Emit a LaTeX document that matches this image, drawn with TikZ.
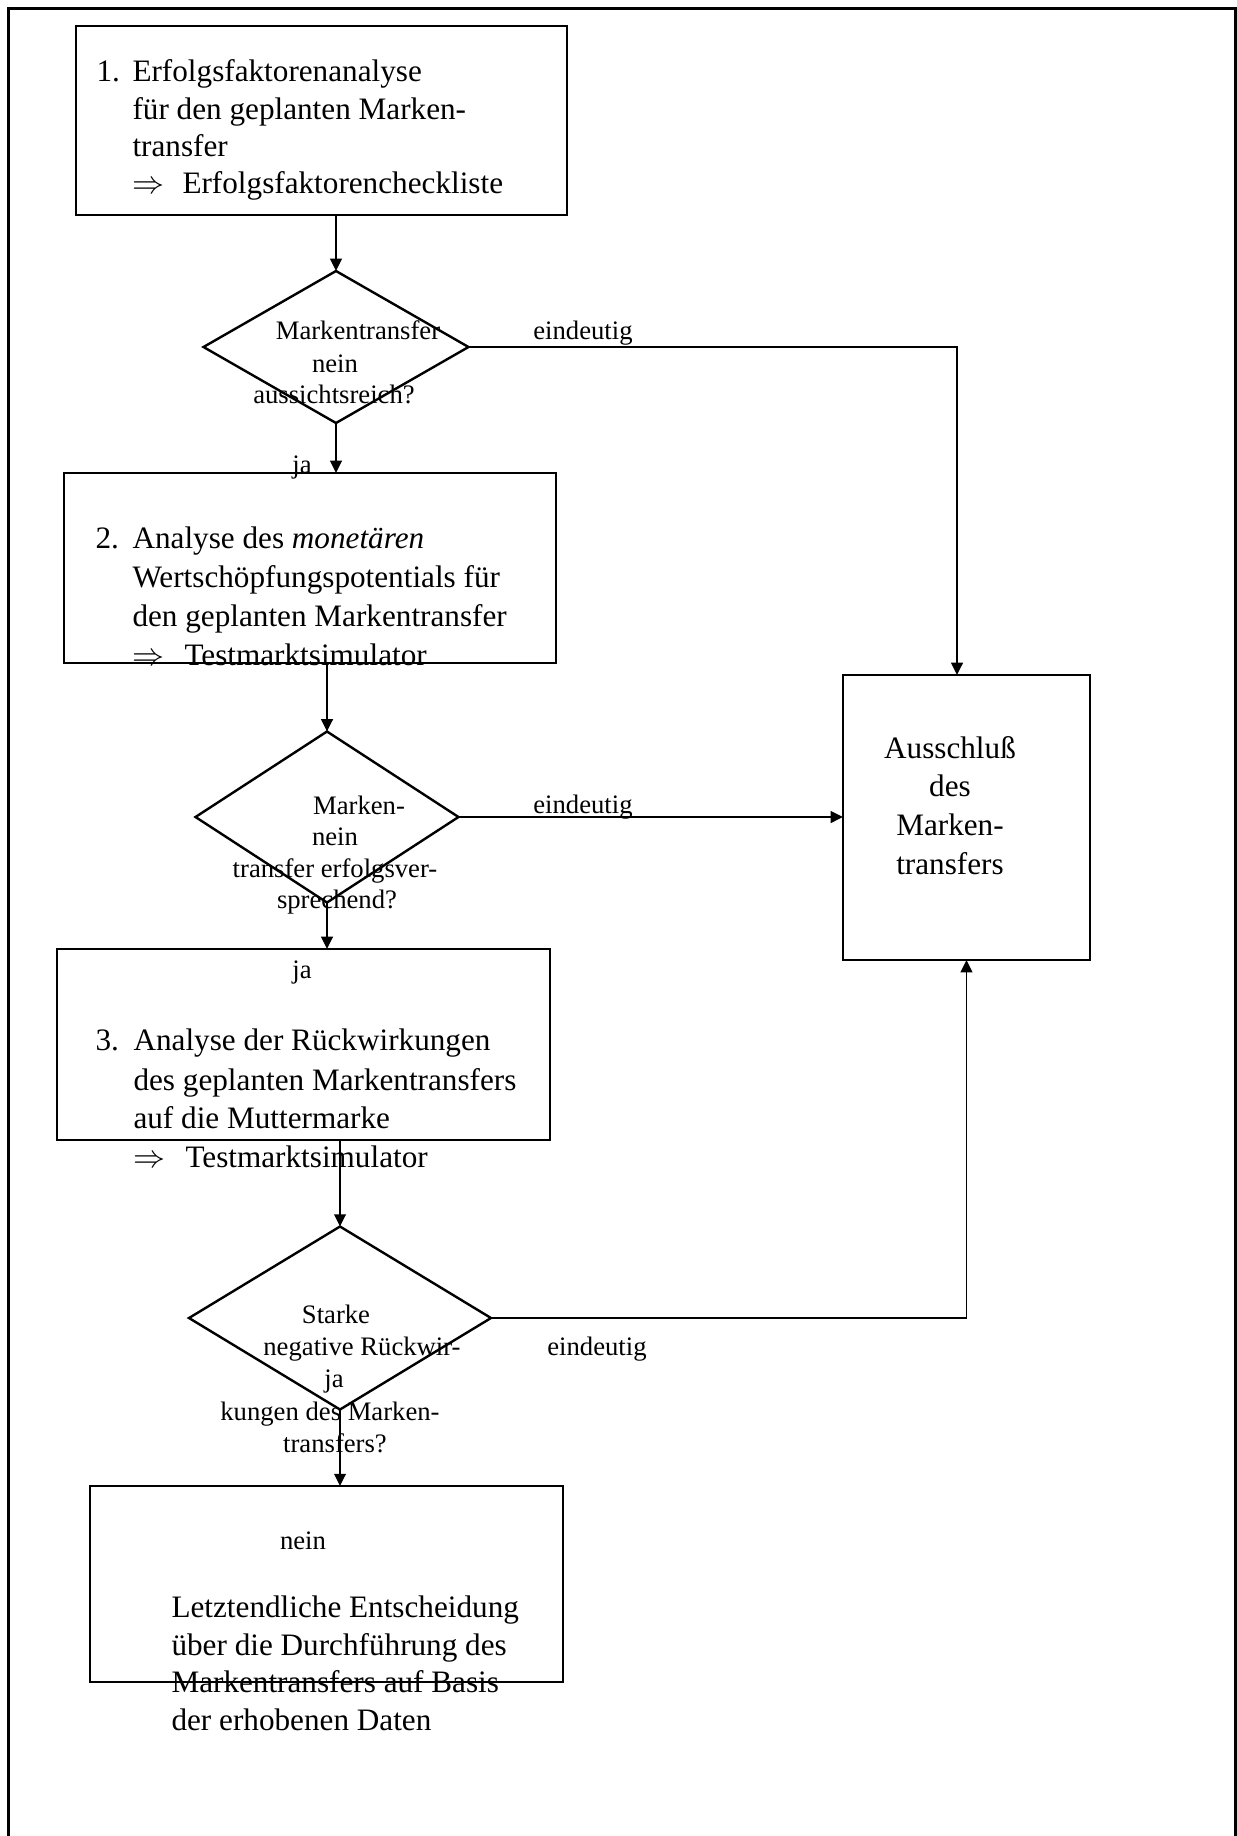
\documentclass[tikz,border=0pt]{standalone}
\usepackage{fontspec}
\setmainfont{Liberation Serif}
\usetikzlibrary{shapes.geometric,arrows.meta,calc}
\begin{document}
\begin{tikzpicture}[x=0.375pt,y=-0.375pt,
  boxst/.style={draw,line width=0.9pt,rectangle,inner sep=0pt,outer sep=0pt},
  diast/.style={draw,line width=0.9pt,diamond,inner sep=0pt,outer sep=0pt},
  conn/.style={line width=0.7pt,-{Triangle[length=4.6pt,width=4.4pt]}},
  bt/.style={inner sep=0pt,anchor=base west,font=\fontsize{11.7}{14}\selectfont},
  btc/.style={inner sep=0pt,anchor=base,font=\fontsize{11.7}{14}\selectfont},
  lb/.style={inner sep=0pt,anchor=base,font=\fontsize{10}{12}\selectfont}]
\useasboundingbox (0,0) rectangle (1237,1836);
\draw[line width=1pt] (8.5,1836) -- (8.5,8.5) -- (1235.5,8.5) -- (1235.5,1836);

% boxes
\node[boxst,minimum width=184.125pt,minimum height=70.875pt] (b1) at (321.5,120.5) {};
\node[boxst,minimum width=184.5pt,minimum height=71.25pt] (b2) at (310,568) {};
\node[boxst,minimum width=184.875pt,minimum height=71.625pt] (b3) at (303.5,1044.5) {};
\node[boxst,minimum width=177.375pt,minimum height=73.5pt] (b4) at (326.5,1584) {};
\node[boxst,minimum width=92.625pt,minimum height=106.875pt] (b5) at (966.5,817.5) {};

% diamonds
\node[diast,minimum width=99.375pt,minimum height=57pt] (d1) at (336,347) {};
\node[diast,minimum width=98.625pt,minimum height=64.125pt] (d2) at (327,817) {};
\node[diast,minimum width=113.25pt,minimum height=68.625pt] (d3) at (340,1318) {};

% connectors
\draw[conn] (d1.north |- b1.south) -- (d1.north);
\draw[conn] (d1.east) -| ($(b5.north)+(-9.5,0)$);
\draw[conn] (d1.south) -- (d1.south |- b2.north);
\draw[conn] (d2.north |- b2.south) -- (d2.north);
\draw[conn] (d2.east) -- (d2.east -| b5.west);
\draw[conn] (d2.south) -- (d2.south |- b3.north);
\draw[conn] (d3.north |- b3.south) -- (d3.north);
\draw[conn] (d3.east) -| (b5.south);
\draw[conn] (d3.south) -- (d3.south |- b4.north);

% box 1 text
\node[bt] (t1n) at (96,81) {1.};
\node[bt] (t1a) at (132,81) {Erfolgsfaktorenanalyse};
\node[bt] (t1b) at (132,119) {für den geplanten Marken-};
\node[bt] (t1c) at (132,156) {transfer};
\node[bt] (t1d) at (132,193) {$\Rightarrow$};
\node[bt] (t1e) at (182,193) {Erfolgsfaktorencheckliste};

% box 2 text
\node[bt] (t2n) at (95,548) {2.};
\node[bt] (t2a) at (132,548) {Analyse des \textit{monetären}};
\node[bt] (t2b) at (132,587) {Wertschöpfungspotentials für};
\node[bt] (t2c) at (132,626) {den geplanten Markentransfer};
\node[bt] (t2d) at (132,665) {$\Rightarrow$};
\node[bt] (t2e) at (184,665) {Testmarktsimulator};

% box 3 text
\node[lb] (ja2) at (302,978) {ja};
\node[bt] (t3n) at (95,1050) {3.};
\node[bt] (t3a) at (133,1050) {Analyse der Rückwirkungen};
\node[bt] (t3b) at (133,1090) {des geplanten Markentransfers};
\node[bt] (t3c) at (133,1128) {auf die Muttermarke};
\node[bt] (t3d) at (133,1167) {$\Rightarrow$};
\node[bt] (t3e) at (185,1167) {Testmarktsimulator};

% box 4 text
\node[lb] (nein3) at (303,1549) {nein};
\node[bt] (t4a) at (171,1617) {Letztendliche Entscheidung};
\node[bt] (t4b) at (171,1655) {über die Durchführung des};
\node[bt] (t4c) at (171,1692) {Markentransfers auf Basis};
\node[bt] (t4d) at (171,1730) {der erhobenen Daten};

% box 5 text
\node[btc] (t5a) at (950,758) {Ausschluß};
\node[btc] (t5b) at (950,796) {des};
\node[btc] (t5c) at (950,835) {Marken-};
\node[btc] (t5d) at (950,874) {transfers};

% diamond 1 text
\node[lb] (q1a) at (358,339) {Markentransfer};
\node[lb] (q1b) at (335,372) {nein};
\node[lb] (q1c) at (334,403) {aussichtsreich?};
\node[lb] (e1) at (583,339) {eindeutig};
\node[lb] (ja1) at (302,473) {ja};

% diamond 2 text
\node[lb] (q2a) at (359,814) {Marken-};
\node[lb] (q2b) at (335,845) {nein};
\node[lb] (q2c) at (335,877) {transfer erfolgsver-};
\node[lb] (q2d) at (337,908) {sprechend?};
\node[lb] (e2) at (583,813) {eindeutig};

% diamond 3 text
\node[lb] (q3a) at (336,1323) {Starke};
\node[lb] (q3b) at (362,1355) {negative Rückwir-};
\node[lb] (q3c) at (334,1387) {ja};
\node[lb] (q3d) at (330,1420) {kungen des Marken-};
\node[lb] (q3e) at (335,1452) {transfers?};
\node[lb] (e3) at (597,1355) {eindeutig};
\end{tikzpicture}
\end{document}
